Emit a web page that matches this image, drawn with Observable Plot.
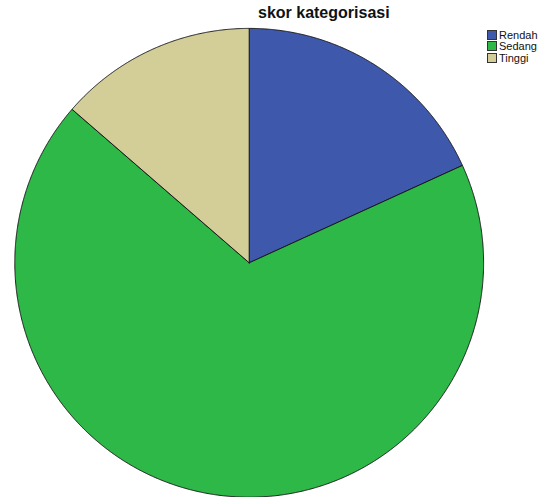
<!DOCTYPE html>
<html>
<head>
<meta charset="utf-8">
<script src="https://cdn.jsdelivr.net/npm/d3@7"></script>
<script src="https://cdn.jsdelivr.net/npm/@observablehq/plot@0.6"></script>
<style>
  html, body { margin: 0; padding: 0; background: #fff; }
  #wrap { position: relative; width: 539px; height: 497px; overflow: hidden; font-family: "Liberation Sans", Arial, sans-serif; }
  #title { position: absolute; left: 258px; top: 4px; font-size: 16px; font-weight: bold; color: #111; white-space: nowrap; }
  #legend { position: absolute; left: 487px; top: 29px; font-size: 11px; color: #111; }
  .row { display: flex; align-items: center; height: 11px; margin-bottom: 0.5px; white-space: nowrap; }
  .sw { width: 8px; height: 8px; border: 1px solid #333; margin-right: 2px; box-sizing: content-box; }
  svg { position: absolute; left: 0; top: 0; }
</style>
</head>
<body>
<div id="wrap">
  <div id="chart"></div>
  <div id="title"></div>
  <div id="legend"></div>
</div>
<script>
const titleText = "skor kategorisasi";
const categories = ["Rendah", "Sedang", "Tinggi"];
const counts = [20, 75, 15];
const colors = ["#3e58ac", "#2eb848", "#d3ce97"];

const data = categories.map((c, i) => ({category: c, value: counts[i]}));
const arcs = d3.pie().sort(null).value(d => d.value).startAngle(0)(data);

// Build slice polygons in unit coordinates (center 0,0; radius 1)
const pts = [];
arcs.forEach(a => {
  const cat = a.data.category;
  pts.push({category: cat, x: 0, y: 0});
  const n = Math.max(2, Math.ceil((a.endAngle - a.startAngle) / 0.004));
  for (let k = 0; k <= n; k++) {
    const t = a.startAngle + (a.endAngle - a.startAngle) * k / n;
    pts.push({category: cat, x: Math.sin(t), y: Math.cos(t)});
  }
  pts.push({category: cat, x: 0, y: 0});
});

const cx = 248.7, cy = 262.3, r = 234.4;
const W = 539, H = 497;

const chart = Plot.plot({
  width: W,
  height: H,
  marginLeft: cx - r,
  marginRight: W - (cx + r),
  marginTop: cy - r,
  marginBottom: H - (cy + r),
  x: {domain: [-1, 1], axis: null},
  y: {domain: [-1, 1], axis: null},
  color: {domain: categories, range: colors},
  style: {background: "transparent", overflow: "visible"},
  marks: [
    Plot.line(pts, {x: "x", y: "y", z: "category", fill: "category", stroke: "#1a1a1a", strokeWidth: 1, strokeLinejoin: "round"})
  ]
});
document.getElementById("chart").appendChild(chart);

document.getElementById("title").textContent = titleText;
const legend = document.getElementById("legend");
categories.forEach((c, i) => {
  const row = document.createElement("div");
  row.className = "row";
  const sw = document.createElement("div");
  sw.className = "sw";
  sw.style.background = colors[i];
  const lab = document.createElement("span");
  lab.textContent = c;
  row.appendChild(sw);
  row.appendChild(lab);
  legend.appendChild(row);
});
</script>
</body>
</html>
